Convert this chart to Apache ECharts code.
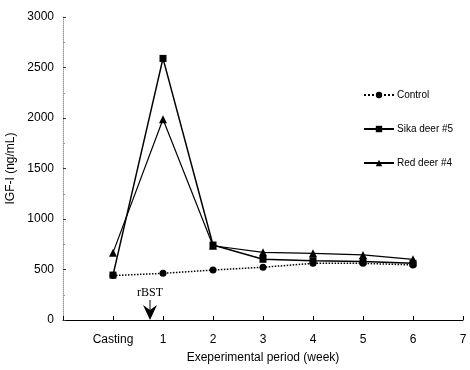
<!DOCTYPE html>
<html>
<head>
<meta charset="utf-8">
<script src="https://cdn.jsdelivr.net/npm/echarts@6/dist/echarts.min.js"></script>
<style>
  html, body { margin: 0; padding: 0; background: #fff; }
  #chart { width: 470px; height: 370px; }
</style>
</head>
<body>
<div id="chart"></div>
<script>
// week positions: 0 = Casting
const weeks = [0, 1, 2, 3, 4, 5, 6];
const controlVals = [440, 462, 495, 522, 561, 561, 545];
const sikaVals = [445, 2590, 742, 601, 587, 578, 561];
const redVals = [667, 1987, 735, 670, 660, 644, 601];
const rbstWeek = 0.74;

function pairs(vals) {
  return weeks.map((w, i) => [w, vals[i]]);
}

let myChart = echarts.init(document.getElementById('chart'));

let option = {
  animation: false,
  textStyle: { fontFamily: 'Liberation Sans', color: '#000' },
  grid: { left: 63, right: 7, top: 17, bottom: 50, containLabel: false, outerBoundsMode: 'none' },
  legend: {
    orient: 'vertical',
    left: 358,
    top: 85,
    itemGap: 24,
    itemWidth: 30,
    itemHeight: 8,
    itemStyle: { borderWidth: 0 },
    textStyle: { fontSize: 10, color: '#000', fontFamily: 'Liberation Sans', padding: [0, 0, 0, -2] },
    data: ['Control', 'Sika deer #5', 'Red deer #4']
  },
  xAxis: {
    type: 'value',
    min: -1,
    max: 7,
    interval: 1,
    name: 'Exeperimental period (week)',
    nameLocation: 'middle',
    nameGap: 32,
    nameTextStyle: { fontSize: 12, color: '#000' },
    axisLine: { lineStyle: { color: '#000', width: 1 } },
    axisTick: { inside: true, length: 4, lineStyle: { color: '#000' } },
    axisLabel: {
      fontSize: 12,
      color: '#000',
      margin: 14,
      formatter: v => (v === 0 ? 'Casting' : v < 0 ? '' : String(v))
    },
    splitLine: { show: false }
  },
  yAxis: {
    type: 'value',
    min: 0,
    max: 3000,
    interval: 500,
    name: 'IGF-I (ng/mL)',
    nameLocation: 'middle',
    nameGap: 41,
    nameTextStyle: { fontSize: 12, color: '#000' },
    axisLine: { show: true, onZero: false, lineStyle: { color: '#999', type: 'dotted', width: 1 } },
    axisTick: { show: true, inside: true, length: 3, lineStyle: { color: '#333' } },
    minorTick: { show: true, splitNumber: 2, length: 2, lineStyle: { color: '#999' } },
    axisLabel: { fontSize: 12, color: '#000', margin: 9, formatter: v => String(v) },
    splitLine: { show: false }
  },
  series: [
    {
      name: 'Control',
      type: 'line',
      data: pairs(controlVals),
      symbol: 'circle',
      symbolSize: 7,
      itemStyle: { color: '#000' },
      lineStyle: { color: '#000', width: 1.5, type: 'dotted' }
    },
    {
      name: 'Sika deer #5',
      type: 'line',
      data: pairs(sikaVals),
      symbol: 'rect',
      symbolSize: 7,
      itemStyle: { color: '#000' },
      lineStyle: { color: '#000', width: 1.5 }
    },
    {
      name: 'Red deer #4',
      type: 'line',
      data: pairs(redVals),
      symbol: 'triangle',
      symbolSize: 8,
      itemStyle: { color: '#000' },
      lineStyle: { color: '#000', width: 1.2 }
    }
  ]
};

myChart.setOption(option);

// rBST arrow annotation placed through the axis scales
const base = myChart.convertToPixel({ gridIndex: 0 }, [rbstWeek, 0]);
const ax = base[0];
const ay = base[1];
myChart.setOption({
  graphic: [
    {
      type: 'text',
      x: ax,
      y: ay - 27,
      style: {
        text: 'rBST',
        font: '12px "Liberation Serif"',
        fill: '#000',
        textAlign: 'center',
        textVerticalAlign: 'middle'
      }
    },
    {
      type: 'line',
      shape: { x1: ax, y1: ay - 20, x2: ax, y2: ay - 10 },
      style: { stroke: '#000', lineWidth: 1 }
    },
    {
      type: 'polygon',
      shape: { points: [[ax - 7, ay - 15], [ax, ay - 10], [ax + 7, ay - 15], [ax, ay]] },
      style: { fill: '#000' }
    }
  ]
});
window.onresize = myChart.resize;
</script>
</body>
</html>
